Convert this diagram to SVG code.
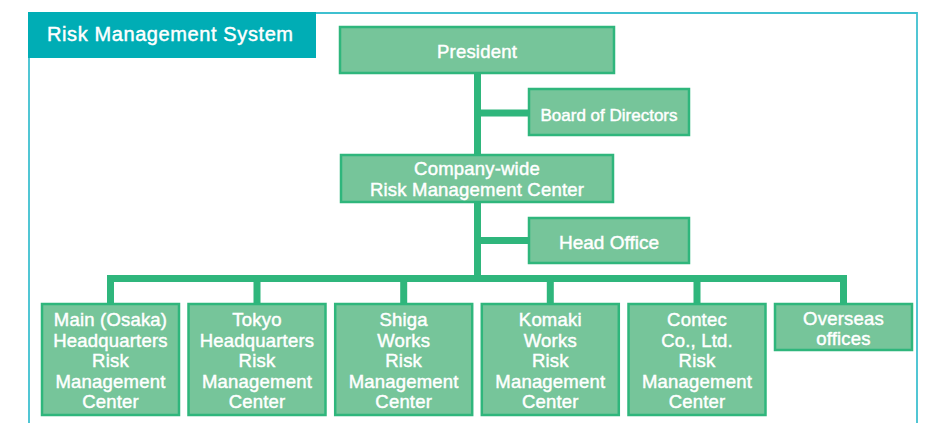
<svg xmlns="http://www.w3.org/2000/svg" width="938" height="423" viewBox="0 0 938 423">
<style>
.box{fill:#76c59a;stroke:#2fb67c;stroke-width:2.5}
.t{font-family:"Liberation Sans",Arial,sans-serif;fill:#ffffff;stroke:#ffffff;stroke-width:0.45px;text-anchor:middle}
.s17{font-size:17px}
.s18{font-size:18.5px;letter-spacing:0.2px}
.s19{font-size:19px}
.c{fill:none;stroke:#2fb67c;stroke-width:7;stroke-linejoin:miter}
</style>
<rect width="938" height="423" fill="#ffffff"/>
<g id="frame">
<path d="M29,423 V13 H917 V423" fill="none" stroke="#3fc0d0" stroke-width="1.8"/>
<rect x="28" y="12" width="288" height="46" fill="#00adb5"/>
<text class="t" x="47" y="41" style="font-size:20px;letter-spacing:0.6px;text-anchor:start">Risk Management System</text>
</g>
<g id="connectors">
<path class="c" d="M477.5,73 V278.5"/>
<path class="c" d="M477.5,113 H529"/>
<path class="c" d="M477.5,240.5 H529"/>
<path class="c" d="M110.5,304 V278.5 H843.5 V304"/>
<path class="c" d="M257,278 V304 M403.7,278 V304 M550.3,278 V304 M697,278 V304"/>
</g>
<g id="president">
<rect class="box" x="340" y="27" width="274" height="46"/>
<text class="t s18" x="477" y="58">President</text>
</g>
<g id="board">
<rect class="box" x="529" y="89" width="160" height="46"/>
<text class="t s17" x="609" y="121">Board of Directors</text>
</g>
<g id="company">
<rect class="box" x="341" y="155" width="272" height="47"/>
<text class="t s18" x="477" y="175">Company-wide</text>
<text class="t s18" x="477" y="196">Risk Management Center</text>
</g>
<g id="headoffice">
<rect class="box" x="529" y="218" width="160" height="45"/>
<text class="t s19" x="609" y="249">Head Office</text>
</g>
<g id="osaka">
<rect class="box" x="42" y="304" width="137" height="111"/>
<text class="t s18" x="110.5" y="326">Main (Osaka)</text>
<text class="t s18" x="110.5" y="346.5">Headquarters</text>
<text class="t s18" x="110.5" y="367">Risk</text>
<text class="t s18" x="110.5" y="387.5">Management</text>
<text class="t s18" x="110.5" y="408">Center</text>
</g>
<g id="tokyo">
<rect class="box" x="188.5" y="304" width="137" height="111"/>
<text class="t s18" x="257" y="326">Tokyo</text>
<text class="t s18" x="257" y="346.5">Headquarters</text>
<text class="t s18" x="257" y="367">Risk</text>
<text class="t s18" x="257" y="387.5">Management</text>
<text class="t s18" x="257" y="408">Center</text>
</g>
<g id="shiga">
<rect class="box" x="335.2" y="304" width="137" height="111"/>
<text class="t s18" x="403.7" y="326">Shiga</text>
<text class="t s18" x="403.7" y="346.5">Works</text>
<text class="t s18" x="403.7" y="367">Risk</text>
<text class="t s18" x="403.7" y="387.5">Management</text>
<text class="t s18" x="403.7" y="408">Center</text>
</g>
<g id="komaki">
<rect class="box" x="481.8" y="304" width="137" height="111"/>
<text class="t s18" x="550.3" y="326">Komaki</text>
<text class="t s18" x="550.3" y="346.5">Works</text>
<text class="t s18" x="550.3" y="367">Risk</text>
<text class="t s18" x="550.3" y="387.5">Management</text>
<text class="t s18" x="550.3" y="408">Center</text>
</g>
<g id="contec">
<rect class="box" x="628.5" y="304" width="137" height="111"/>
<text class="t s18" x="697" y="326">Contec</text>
<text class="t s18" x="697" y="346.5">Co., Ltd.</text>
<text class="t s18" x="697" y="367">Risk</text>
<text class="t s18" x="697" y="387.5">Management</text>
<text class="t s18" x="697" y="408">Center</text>
</g>
<g id="overseas">
<rect class="box" x="775" y="304" width="137" height="46"/>
<text class="t s18" x="843.5" y="325">Overseas</text>
<text class="t s18" x="843.5" y="345">offices</text>
</g>
</svg>
